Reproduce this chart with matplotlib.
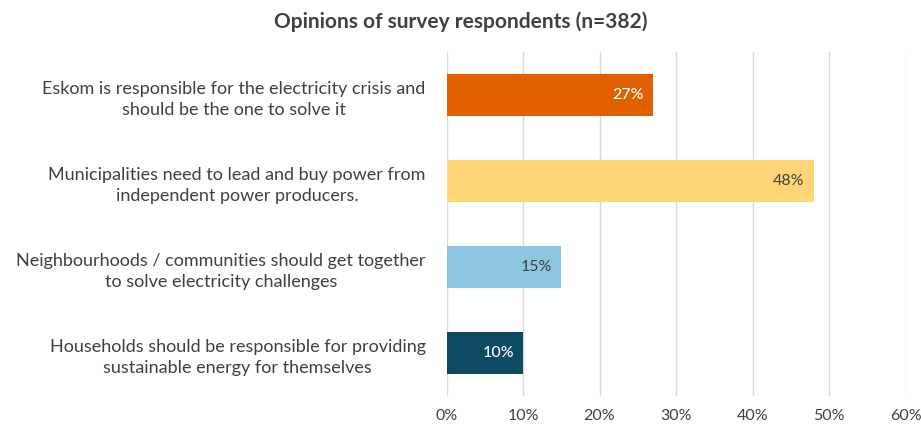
import numpy as np
import matplotlib.pyplot as plt

plt.rcParams['font.family'] = ['Lato', 'DejaVu Sans']

categories = [
    "Eskom is responsible for the electricity crisis and\nshould be the one to solve it",
    "Municipalities need to lead and buy power from\nindependent power producers.",
    "Neighbourhoods / communities should get together\nto solve electricity challenges",
    "Households should be responsible for providing\nsustainable energy for themselves",
]
values = [27, 48, 15, 10]
colors = ['#E06000', '#FFD578', '#8DC6DF', '#0F4A63']
label_colors = ['white', '#404040', '#404040', 'white']
ticks = [0, 10, 20, 30, 40, 50, 60]

txt = '#404040'

fig = plt.figure(figsize=(9.21, 4.25), dpi=100, facecolor='w')
ax = fig.add_axes([0.4848, 0.0682, 0.4984, 0.8094])

y = np.arange(len(categories))
ax.barh(y, values, height=0.49, color=colors, zorder=3)

for yi, v, c in zip(y, values, label_colors):
    ax.text(v - 1.2, yi, f"{v}%", ha='right', va='center', color=c,
            fontsize=11.5, fontweight='medium' if c == 'white' else 'normal',
            zorder=4)

ax.set_yticks(y)
ax.set_yticklabels(categories, fontsize=13, color=txt,
                   multialignment='center', linespacing=1.45)
ax.set_ylim(len(categories) - 0.5, -0.5)
ax.set_xlim(0, 60)
ax.set_xticks(ticks)
ax.set_xticklabels([f"{t}%" for t in ticks], fontsize=11.5, color=txt)

ax.grid(axis='x', color='#D9D9D9', linewidth=1, zorder=0)
for s in ax.spines.values():
    s.set_visible(False)
ax.tick_params(axis='y', length=0, pad=15)
ax.tick_params(axis='x', length=0, pad=9)

fig.suptitle("Opinions of survey respondents (n=382)", x=0.5, y=0.972,
             fontsize=15, fontweight='bold', color=txt)

plt.savefig("out.png", dpi=100)
plt.close()
